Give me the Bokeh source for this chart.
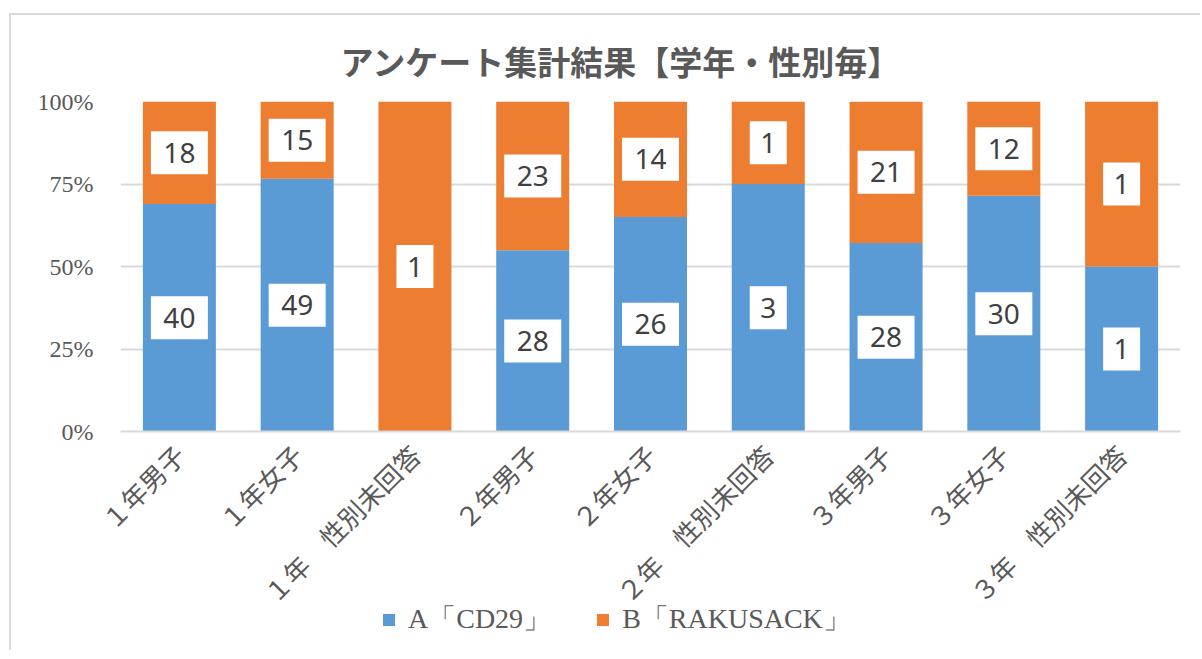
import math
from bokeh.plotting import figure
from bokeh.layouts import column
from bokeh.models import ColumnDataSource, Legend, LegendItem, FactorRange, NumeralTickFormatter, FixedTicker, Range1d
from bokeh.core.properties import value
from bokeh.embed import file_html
from bokeh.resources import INLINE

categories = ["１年男子", "１年女子", "１年　性別未回答",
              "２年男子", "２年女子", "２年　性別未回答",
              "３年男子", "３年女子", "３年　性別未回答"]
series_a = [40, 49, 0, 28, 26, 3, 28, 30, 1]
series_b = [18, 15, 1, 23, 14, 1, 21, 12, 1]
series_names = ["A「CD29」", "B「RAKUSACK」"]
y_ticks = [0, 0.25, 0.5, 0.75, 1.0]
title_text = "アンケート集計結果【学年・性別毎】"

BLUE = "#5B9BD5"
ORANGE = "#ED7D31"

totals = [a + b for a, b in zip(series_a, series_b)]
frac_a = [a / t for a, t in zip(series_a, totals)]
frac_b = [b / t for b, t in zip(series_b, totals)]

src = ColumnDataSource(dict(cat=categories, a=frac_a, b=frac_b))

lx, ly, lt, lw = [], [], [], []
for c, a, b, fa in zip(categories, series_a, series_b, frac_a):
    if a > 0:
        lx.append(c); ly.append(fa / 2); lt.append(str(a))
    if b > 0:
        lx.append(c); ly.append(fa + (1 - fa) / 2); lt.append(str(b))
for t in lt:
    lw.append(17 + 20 * len(t))
lsrc = ColumnDataSource(dict(x=lx, y=ly, t=lt, w=lw))

p = figure(width=1200, height=625, output_backend="svg", toolbar_location=None,
           x_range=FactorRange(factors=categories, range_padding=0),
           y_range=Range1d(0, 1),
           min_border_left=120, min_border_right=20, min_border_top=101, min_border_bottom=194)
p.border_fill_alpha = 0
p.outline_line_color = None

p.title.text = title_text
p.title.align = "left"
p.title.text_font = "Noto Sans CJK JP"
p.title.text_font_size = "33px"
p.title.text_color = "#595959"
p.title.text_font_style = "bold"
p.title.offset = 220
p.title.standoff = 33

rs = p.vbar_stack(["a", "b"], x="cat", width=0.62, color=[BLUE, ORANGE], line_color=None, source=src)

p.rect(x="x", y="y", width="w", height=43, width_units="screen", height_units="screen",
       fill_color="white", line_color=None, source=lsrc)
p.text(x="x", y="y", text="t", source=lsrc, text_align="center", text_baseline="middle",
       text_font=value("Noto Sans"), text_font_size="28px", text_color="#404040")

p.yaxis.ticker = FixedTicker(ticks=y_ticks)
p.yaxis.formatter = NumeralTickFormatter(format="0%")
p.yaxis.axis_line_color = None
p.yaxis.major_tick_line_color = None
p.yaxis.minor_tick_line_color = None
p.yaxis.major_label_standoff = 21
p.yaxis.major_label_text_font = "Liberation Serif"
p.yaxis.major_label_text_font_size = "24px"
p.yaxis.major_label_text_color = "#595959"

p.xaxis.axis_line_color = "#d9d9d9"
p.xaxis.axis_line_width = 2
p.xaxis.major_tick_line_color = None
p.xaxis.minor_tick_line_color = None
p.xaxis.major_label_orientation = math.pi / 4
p.xaxis.major_label_standoff = 12
p.xaxis.major_label_text_font = "Noto Sans CJK JP"
p.xaxis.major_label_text_font_size = "26px"
p.xaxis.major_label_text_color = "#595959"

p.xgrid.grid_line_color = None
p.ygrid.grid_line_color = "#d9d9d9"
p.ygrid.grid_line_width = 2

# legend strip below the chart (overlapping the bottom of the label area, as in the reference)
# its legend renderers are the same stacked series, kept outside the strip's visible range
q = figure(width=1200, height=50, output_backend="svg", toolbar_location=None,
           x_range=FactorRange(factors=categories, range_padding=0),
           y_range=Range1d(5, 6), min_border=0)
q.axis.visible = False
q.grid.visible = False
q.outline_line_color = None
q.background_fill_alpha = 0
q.border_fill_alpha = 0
q.styles = {"margin-top": "-25px"}
qs = q.vbar_stack(["a", "b"], x="cat", width=0.62, color=[BLUE, ORANGE], line_color=None, source=src)
legend = Legend(items=[LegendItem(label=series_names[0], renderers=[qs[0]]),
                       LegendItem(label=series_names[1], renderers=[qs[1]])],
                orientation="horizontal", location=(261, 12),
                label_text_font="Liberation Serif", label_text_font_size="28px",
                label_text_color="#595959", glyph_width=15, glyph_height=15,
                label_standoff=12, spacing=44, padding=2, margin=0,
                border_line_color=None, background_fill_alpha=0)
q.add_layout(legend)

layout = column(p, q, spacing=0)
layout.styles = {"background": "linear-gradient(#d9d9d9,#d9d9d9) 9px 13px / 2px 100% no-repeat, "
                               "linear-gradient(#d9d9d9,#d9d9d9) 9px 13px / 100% 2px no-repeat, white"}

open("out.html", "w").write(file_html(layout, INLINE))
